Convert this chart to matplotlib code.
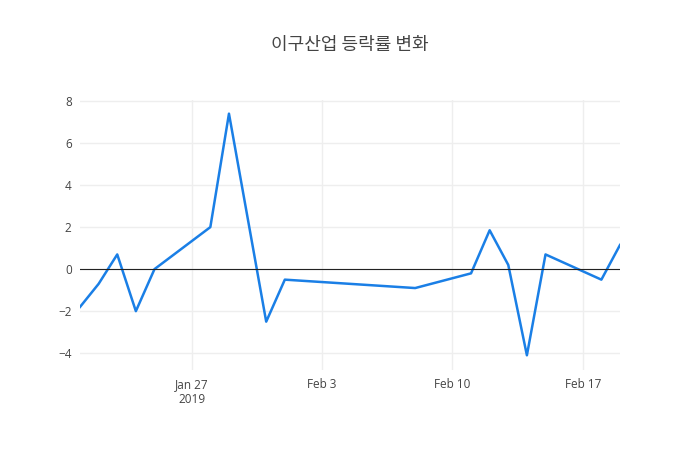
import matplotlib
matplotlib.use("Agg")
import matplotlib.pyplot as plt
import pandas as pd

dates = ["2019-01-21","2019-01-22","2019-01-23","2019-01-24","2019-01-25","2019-01-28","2019-01-29",
         "2019-01-31","2019-02-01","2019-02-08","2019-02-11","2019-02-12","2019-02-13","2019-02-14",
         "2019-02-15","2019-02-18","2019-02-19"]
values = [-1.8,-0.7,0.7,-2.0,0.0,2.0,7.4,-2.5,-0.5,-0.9,-0.2,1.85,0.2,-4.1,0.7,-0.5,1.15]
title = "이구산업 등락률 변화"

plt.rcParams['font.family'] = ['Open Sans', 'Noto Sans CJK KR', 'DejaVu Sans']
x = pd.to_datetime(dates)
fig = plt.figure(figsize=(7, 4.5), dpi=100)
ax = fig.add_axes([80/700, 80/450, 540/700, 270/450])
ax.plot(x, values, color='#1a7fe6', lw=1.8)
ax.axhline(0, color='#222222', lw=0.8)
ax.set_xlim(pd.Timestamp("2019-01-21"), pd.Timestamp("2019-02-19"))
ax.set_ylim(-4.8, 8.05)
ax.set_yticks([-4, -2, 0, 2, 4, 6, 8])
ax.set_yticklabels(['−4', '−2', '0', '2', '4', '6', '8'])
ticks = pd.to_datetime(["2019-01-27", "2019-02-03", "2019-02-10", "2019-02-17"])
ax.set_xticks(ticks)
ax.set_xticklabels(["Jan 27\n2019", "Feb 3", "Feb 10", "Feb 17"])
ax.grid(color='#eeeeee', lw=1)
ax.set_axisbelow(True)
for s in ax.spines.values():
    s.set_visible(False)
ax.tick_params(length=0, labelsize=8.5, colors='#444444', pad=6)
fig.text(0.5, 1 - 45/450, title, ha='center', va='center', fontsize=13, color='#444444',
         family=['Noto Sans CJK KR', 'DejaVu Sans'])
fig.savefig("out.png", dpi=100)
